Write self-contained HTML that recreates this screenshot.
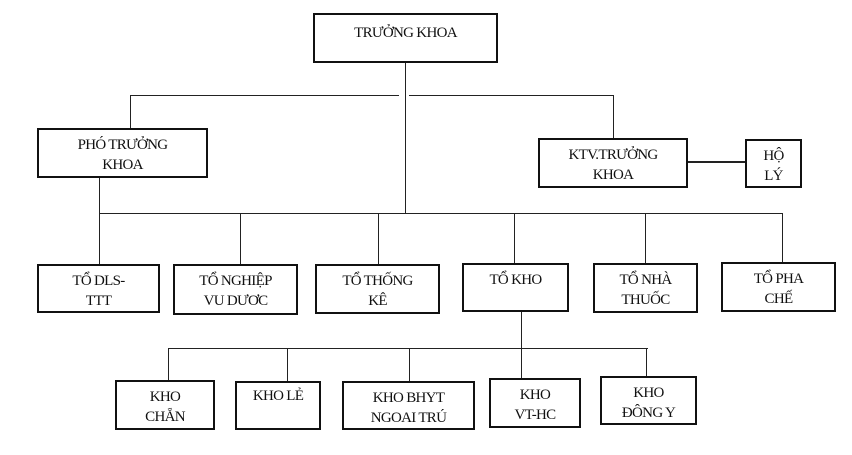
<!DOCTYPE html>
<html><head><meta charset="utf-8"><style>
html,body{margin:0;padding:0;background:#fff;width:852px;height:455px;overflow:hidden;position:relative;}
.b{position:absolute;box-sizing:border-box;border:2px solid #111;font-family:"Liberation Serif","Times New Roman","DejaVu Serif",serif;font-size:15px;line-height:20px;text-align:center;color:#111;letter-spacing:-0.7px;padding-top:5px;}
.l{position:absolute;background:#222;}
.h{height:1px;}.v{width:1px;}
</style></head><body>
<div class="b" style="left:313px;top:13px;width:185px;height:50px;padding-top:8px">TRƯỞNG KHOA</div>
<div class="l v" style="left:405px;top:63px;height:150px"></div>
<div class="l h" style="left:130px;top:95px;width:269px"></div>
<div class="l h" style="left:409px;top:95px;width:204px"></div>
<div class="l v" style="left:130px;top:95px;height:33px"></div>
<div class="l v" style="left:613px;top:95px;height:43px"></div>
<div class="b" style="left:37px;top:128px;width:171px;height:50px">PHÓ TRƯỞNG<br>KHOA</div>
<div class="b" style="left:538px;top:138px;width:150px;height:50px">KTV.TRƯỞNG<br>KHOA</div>
<div class="l" style="left:688px;top:161px;width:57px;height:2px"></div>
<div class="b" style="left:745px;top:139px;width:57px;height:49px">HỘ<br>LÝ</div>
<div class="l v" style="left:99px;top:178px;height:86px"></div>
<div class="l h" style="left:99px;top:213px;width:684px"></div>
<div class="l v" style="left:240px;top:213px;height:51px"></div>
<div class="l v" style="left:378px;top:213px;height:51px"></div>
<div class="l v" style="left:514px;top:213px;height:50px"></div>
<div class="l v" style="left:645px;top:213px;height:50px"></div>
<div class="l v" style="left:782px;top:213px;height:49px"></div>
<div class="b" style="left:37px;top:264px;width:123px;height:49px">TỔ DLS-<br>TTT</div>
<div class="b" style="left:173px;top:264px;width:125px;height:51px">TỔ NGHIỆP<br>VU DƯƠC</div>
<div class="b" style="left:315px;top:264px;width:125px;height:50px">TỔ THỐNG<br>KÊ</div>
<div class="b" style="left:462px;top:263px;width:107px;height:49px">TỔ KHO</div>
<div class="b" style="left:593px;top:263px;width:105px;height:50px">TỔ NHÀ<br>THUỐC</div>
<div class="b" style="left:721px;top:262px;width:115px;height:50px">TỔ PHA<br>CHẾ</div>
<div class="l v" style="left:521px;top:312px;height:66px"></div>
<div class="l h" style="left:168px;top:348px;width:480px"></div>
<div class="l v" style="left:168px;top:348px;height:32px"></div>
<div class="l v" style="left:287px;top:348px;height:33px"></div>
<div class="l v" style="left:409px;top:348px;height:33px"></div>
<div class="l v" style="left:646px;top:348px;height:28px"></div>
<div class="b" style="left:115px;top:380px;width:100px;height:50px">KHO<br>CHẴN</div>
<div class="b" style="left:235px;top:381px;width:86px;height:49px;padding-top:3px">KHO LẺ</div>
<div class="b" style="left:342px;top:381px;width:133px;height:49px">KHO BHYT<br>NGOAI TRÚ</div>
<div class="b" style="left:489px;top:378px;width:92px;height:50px">KHO<br>VT-HC</div>
<div class="b" style="left:600px;top:376px;width:97px;height:49px">KHO<br>ĐÔNG Y</div>
</body></html>
